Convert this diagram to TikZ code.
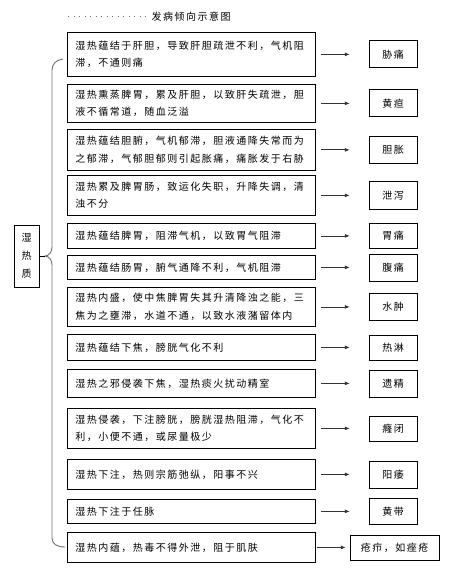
\documentclass[tikz,border=0pt]{standalone}
\usepackage{fontspec}
\usepackage{xcolor}
\usepackage{tikz}
\usetikzlibrary{arrows.meta,positioning}
\newfontfamily\cjk[LetterSpace=15]{Noto Sans CJK SC}
\definecolor{bracegray}{HTML}{707070}

\begin{document}
\begin{tikzpicture}[
  x=1pt,y=-1pt,
  cause/.style={draw,line width=0.8pt,anchor=north west,text width=232pt,inner xsep=8pt,align=left,font=\cjk\fontsize{10pt}{17.5pt}\selectfont},
  result/.style={draw,line width=0.8pt,minimum width=48pt,minimum height=27pt,font=\cjk\fontsize{10pt}{12pt}\selectfont},
  arrow/.style={-{Latex[length=5pt,width=4pt]},line width=0.8pt,draw=black!80,shorten <=5pt,shorten >=19pt}
]
\useasboundingbox (0,0) rectangle (450,577);
% title
\node[font=\cjk\fontsize{10pt}{12pt}\selectfont] (title) at (191,17) {发病倾向示意图};
\coordinate (lead) at (68,17);
\draw[bracegray,line width=1pt,dash pattern=on 1pt off 4.5pt] (lead) -- (title.west);
% causes
\node[cause,minimum height=44pt] (c1) at (67,32) {湿热蕴结于肝胆，导致肝胆疏泄不利，气机阻\\滞，不通则痛};
\node[cause,minimum height=38pt] (c2) at (67,84) {湿热熏蒸脾胃，累及肝胆，以致肝失疏泄，胆\\液不循常道，随血泛溢};
\node[cause,minimum height=41pt] (c3) at (67,129) {湿热蕴结胆腑，气机郁滞，胆液通降失常而为\\之郁滞，气郁胆郁则引起胀痛，痛胀发于右胁};
\node[cause,minimum height=40pt] (c4) at (67,175) {湿热累及脾胃肠，致运化失职，升降失调，清\\浊不分};
\node[cause,minimum height=25pt] (c5) at (67,223) {湿热蕴结脾胃，阻滞气机，以致胃气阻滞};
\node[cause,minimum height=24pt] (c6) at (67,255) {湿热蕴结肠胃，腑气通降不利，气机阻滞};
\node[cause,minimum height=39pt] (c7) at (67,287) {湿热内盛，使中焦脾胃失其升清降浊之能，三\\焦为之壅滞，水道不通，以致水液潴留体内};
\node[cause,minimum height=26pt] (c8) at (67,334) {湿热蕴结下焦，膀胱气化不利};
\node[cause,minimum height=28pt] (c9) at (67,369) {湿热之邪侵袭下焦，湿热痰火扰动精室};
\node[cause,minimum height=40pt] (c10) at (67,408) {湿热侵袭，下注膀胱，膀胱湿热阻滞，气化不\\利，小便不通，或尿量极少};
\node[cause,minimum height=30pt] (c11) at (67,459) {湿热下注，热则宗筋弛纵，阳事不兴};
\node[cause,minimum height=24pt] (c12) at (67,499) {湿热下注于任脉};
\node[cause,minimum height=30pt] (c13) at (67,532) {湿热内蕴，热毒不得外泄，阻于肌肤};
% results
\node[result,right=53pt of c1] (d1) {胁痛};
\node[result,right=53pt of c2] (d2) {黄疸};
\node[result,right=53pt of c3] (d3) {胆胀};
\node[result,right=53pt of c4] (d4) {泄泻};
\node[result,right=53pt of c5,minimum height=25pt] (d5) {胃痛};
\node[result,right=53pt of c6] (d6) {腹痛};
\node[result,right=53pt of c7] (d7) {水肿};
\node[result,right=53pt of c8,minimum height=25pt] (d8) {热淋};
\node[result,right=53pt of c9] (d9) {遗精};
\node[result,right=53pt of c10,minimum height=25pt] (d10) {癃闭};
\node[result,right=53pt of c11] (d11) {阳痿};
\node[result,right=53pt of c12,minimum height=26pt] (d12) {黄带};
\node[result,right=34pt of c13,minimum width=89pt,minimum height=25pt] (d13) {疮疖，如痤疮};
% constitution
\node[draw,line width=0.8pt,minimum width=25pt,minimum height=62pt,align=center,font=\cjk\fontsize{10pt}{18pt}\selectfont] (body) at (26.5,256) {湿\\热\\质};
\coordinate (tip) at (45,256);
\draw[bracegray,line width=0.9pt] (63,59) .. controls (56,60) and (52,64) .. (52,70) -- (52,247)
  .. controls (52,252) and (49,256) .. (tip) .. controls (49,256) and (52,260) .. (52,265)
  -- (52,538) .. controls (52,544) and (57,547) .. (65,547);
\draw[line width=0.8pt] (body.east) -- (tip);
% arrows
\draw[arrow] (c1) -- (d1);
\draw[arrow] (c2) -- (d2);
\draw[arrow] (c3) -- (d3);
\draw[arrow] (c4) -- (d4);
\draw[arrow] (c5) -- (d5);
\draw[arrow] (c6) -- (d6);
\draw[arrow] (c7) -- (d7);
\draw[arrow] (c8) -- (d8);
\draw[arrow] (c9) -- (d9);
\draw[arrow] (c10) -- (d10);
\draw[arrow] (c11) -- (d11);
\draw[arrow] (c12) -- (d12);
\draw[arrow,shorten <=1pt,shorten >=4pt] (c13) -- (d13);
\end{tikzpicture}
\end{document}
